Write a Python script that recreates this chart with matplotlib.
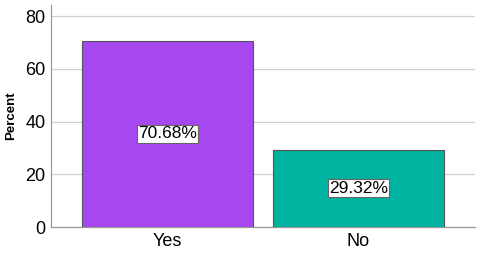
import matplotlib
matplotlib.use("Agg")
import matplotlib.pyplot as plt

categories = ["Yes", "No"]
percents = [70.68, 29.32]
colors = ["#A747EF", "#00B2A0"]
y_ticks = [0, 20, 40, 60, 80]

plt.rcParams['font.family'] = ['Liberation Sans', 'DejaVu Sans']

fig = plt.figure(figsize=(4.83, 2.59), dpi=100)
ax = fig.add_axes([51/483, 1-227/259, (475-51)/483, (227-5)/259])

x = list(range(len(categories)))
bars = ax.bar(x, percents, width=0.9, color=colors, edgecolor="#555555", linewidth=0.8, zorder=3)
for xi, v in zip(x, percents):
    ax.text(xi, v/2, f"{v:.2f}%", ha="center", va="center", fontsize=12.5, zorder=4,
            bbox=dict(boxstyle="square,pad=0.08", fc="white", ec="#666666", lw=0.8))

ax.set_xlim(-0.61, 1.61)
ax.set_ylim(0, 84.2)
ax.set_yticks(y_ticks)
ax.set_xticks(x)
ax.set_xticklabels(categories)
ax.tick_params(axis="both", length=0, labelsize=13, pad=4)
ax.grid(axis="y", color="#d0d0d0", linewidth=0.9, zorder=0)
for s in ["top", "right"]:
    ax.spines[s].set_visible(False)
for s in ["left", "bottom"]:
    ax.spines[s].set_color("#999999")
    ax.spines[s].set_linewidth(0.9)
ax.set_ylabel("Percent", fontsize=9.5, fontweight="bold", labelpad=6)

fig.savefig("out.png", dpi=100)
